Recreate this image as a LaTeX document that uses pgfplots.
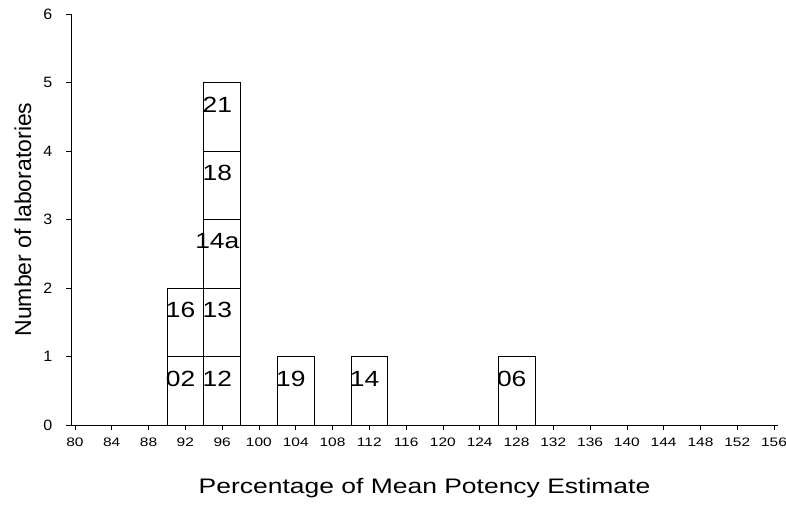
\documentclass[border=0pt]{standalone}
\usepackage{fontspec}
\setmainfont{Liberation Sans}
\usepackage{pgfplots}
\usepackage{pgfplotstable}
\pgfplotsset{compat=1.18}

\newcommand\labfont{\fontsize{21pt}{25pt}\selectfont}
\newcommand\boxfont{\fontsize{22pt}{26pt}\selectfont}

% Each layer is one row of laboratory boxes stacked on the histogram.
% Columns: bin centre (%), box height, laboratory code.
\pgfplotstableread{
x   h  lab
92  1  02
96  1  12
104 1  19
112 1  14
128 1  06
}\layerA
\pgfplotstableread{
x   h  lab
92  1  16
96  1  13
104 0  {}
112 0  {}
128 0  {}
}\layerB
\pgfplotstableread{
x   h  lab
92  0  {}
96  1  14a
104 0  {}
112 0  {}
128 0  {}
}\layerC
\pgfplotstableread{
x   h  lab
92  0  {}
96  1  18
104 0  {}
112 0  {}
128 0  {}
}\layerD
\pgfplotstableread{
x   h  lab
92  0  {}
96  1  21
104 0  {}
112 0  {}
128 0  {}
}\layerE

\begin{document}
\begin{tikzpicture}
\useasboundingbox (0,0) rectangle (786pt,506pt);
\begin{axis}[
  at={(71pt,81pt)}, anchor=south west,
  scale only axis, width=707pt, height=411pt,
  xmin=79.57, xmax=156.43, ymin=0, ymax=6,
  axis x line*=bottom, axis y line*=left,
  xtick={80,84,...,156},
  ytick={0,1,...,6},
  /pgf/number format/assume math mode=true,
  tick align=outside, major tick length=5pt,
  tick style={black, line width=0.6pt},
  axis line style={black, line width=0.6pt},
  xticklabel style={yshift=-4pt, xscale=1.55, yscale=1.23},
  yticklabel style={xshift=-8pt, xscale=1.6, yscale=1.5},
  xlabel={Percentage of Mean Potency Estimate},
  ylabel={Number of laboratories},
  xlabel style={font=\labfont, xscale=1.26, at={(axis description cs:0.5,-0.153)}, anchor=center},
  ylabel style={font=\fontsize{23pt}{27pt}\selectfont, at={(axis description cs:-0.068,0.5)}, anchor=center},
  ybar stacked, bar width=4,
  point meta=explicit symbolic,
  nodes near coords,
  every node near coord/.append style={font=\boxfont, xscale=1.2, text=black, anchor=center, yshift=12.3pt, xshift=-4pt, inner sep=0pt},
  after end axis/.code={
    \draw[black, line width=0.6pt] (rel axis cs:0,0) -- ++(-5pt,0);
  },
]
\addplot[draw=black, fill=white, line width=0.7pt] table[x=x, y=h, meta=lab] {\layerA};
\addplot[draw=black, fill=white, line width=0.7pt] table[x=x, y=h, meta=lab] {\layerB};
\addplot[draw=black, fill=white, line width=0.7pt] table[x=x, y=h, meta=lab] {\layerC};
\addplot[draw=black, fill=white, line width=0.7pt] table[x=x, y=h, meta=lab] {\layerD};
\addplot[draw=black, fill=white, line width=0.7pt] table[x=x, y=h, meta=lab] {\layerE};
\end{axis}
\end{tikzpicture}
\end{document}
